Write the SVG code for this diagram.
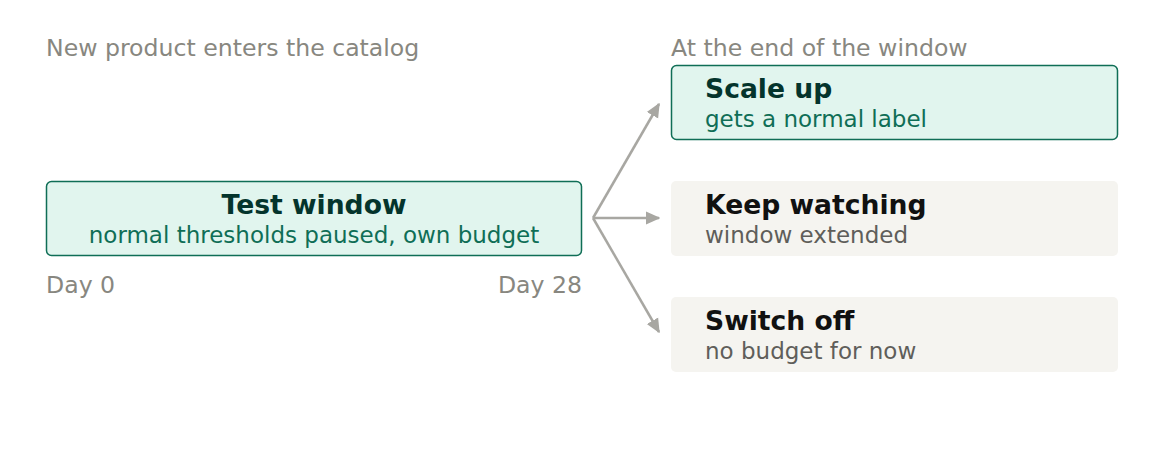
<svg xmlns="http://www.w3.org/2000/svg" width="1164" height="463" viewBox="0 0 1164 463">
<style>
text{font-family:"DejaVu Sans",sans-serif}
.hdr{font-size:23.6px;fill:#888780}
.green{fill:#e1f5ee;stroke:#0f6e56;stroke-width:1.5}
.gray{fill:#f5f4f0}
.tg{font-size:26.6px;font-weight:bold;fill:#04342c}
.sg{font-size:23px;fill:#0f6e56}
.tk{font-size:26.6px;font-weight:bold;fill:#111111}
.sk{font-size:23px;fill:#5f5e5a}
.conn{stroke:#a8a7a2;stroke-width:2.5;fill:none}
</style>
<defs>
<marker id="ah" viewBox="0 0 10 10" refX="9" refY="5" markerWidth="5.8" markerHeight="5.8" markerUnits="strokeWidth" orient="auto">
<path d="M0,0.5 L10,5 L0,9.5 Z" fill="#a8a7a2"/>
</marker>
</defs>
<text class="hdr" x="46" y="55.5">New product enters the catalog</text>
<text class="hdr" x="671" y="55.5">At the end of the window</text>
<g id="test-window">
<rect class="green" x="46.5" y="181.5" width="535" height="74" rx="5"/>
<text class="tg" x="314" y="214" text-anchor="middle">Test window</text>
<text class="sg" x="314" y="243" text-anchor="middle">normal thresholds paused, own budget</text>
</g>
<text class="hdr" x="46" y="293">Day 0</text>
<text class="hdr" x="582" y="293" text-anchor="end">Day 28</text>
<g id="scale-up">
<rect class="green" x="671.5" y="65.5" width="446" height="74" rx="5"/>
<text class="tg" x="705" y="97.5">Scale up</text>
<text class="sg" x="705" y="126.5">gets a normal label</text>
</g>
<g id="keep-watching">
<rect class="gray" x="671" y="181" width="447" height="75" rx="5"/>
<text class="tk" x="705" y="214">Keep watching</text>
<text class="sk" x="705" y="243">window extended</text>
</g>
<g id="switch-off">
<rect class="gray" x="671" y="297" width="447" height="75" rx="5"/>
<text class="tk" x="705" y="330">Switch off</text>
<text class="sk" x="705" y="359">no budget for now</text>
</g>
<g id="connectors">
<path class="conn" d="M593,218 L659,104" marker-end="url(#ah)"/>
<path class="conn" d="M593,218 L659,218" marker-end="url(#ah)"/>
<path class="conn" d="M593,218 L659,332" marker-end="url(#ah)"/>
</g>
</svg>
